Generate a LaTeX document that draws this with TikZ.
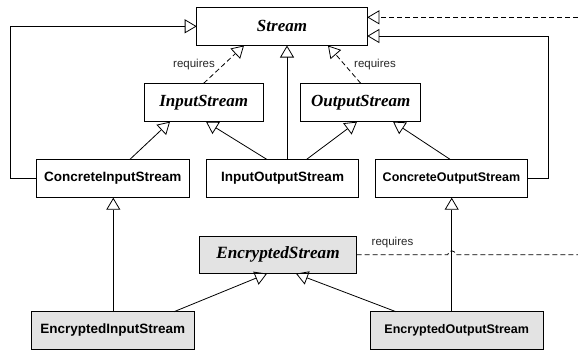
\documentclass[tikz,border=0pt]{standalone}
\usepackage{fontspec}
\setmainfont{Liberation Serif}
\setsansfont{Liberation Sans}
\usetikzlibrary{arrows.meta}
\definecolor{encgray}{HTML}{E3E3E3}
\begin{document}
\begin{tikzpicture}[x=1pt,y=-1pt,
  box/.style={draw=black,line width=0.8pt,inner sep=0pt,outer sep=0pt,minimum height=38.4pt},
  abs/.style={box,font=\fontsize{17}{20}\selectfont\bfseries\itshape},
  absenc/.style={box,fill=encgray,font=\fontsize{17.2}{20}\selectfont\bfseries\itshape},
  conc/.style={box,font=\sffamily\bfseries\fontsize{13.5}{16}\selectfont},
  concsm/.style={box,font=\sffamily\bfseries\fontsize{12.5}{15}\selectfont},
  enc/.style={fill=encgray},
  gen/.style={line width=0.8pt,-{Triangle[open,length=12pt,width=14pt]}},
  req/.style={gen,dash pattern=on 5pt off 3pt},
  dep/.style={line width=0.8pt,dash pattern=on 5pt off 3pt},
  lbl/.style={font=\sffamily\fontsize{11.5}{13}\selectfont,text=black!85}
]
\useasboundingbox (0,0) rectangle (578,354);

% nodes
\node[abs,minimum width=170.6pt] (stream) at (282,26.3) {Stream};
\node[abs,minimum width=119.3pt] (is) at (203.7,102.5) {InputStream};
\node[abs,minimum width=120pt] (os) at (360.7,102.5) {OutputStream};
\node[conc,minimum width=152.3pt] (cis) at (112.8,178.5) {ConcreteInputStream};
\node[conc,minimum width=151.6pt] (ios) at (282.5,178.5) {InputOutputStream};
\node[concsm,minimum width=151.6pt] (cos) at (451.5,178.5) {ConcreteOutputStream};
\node[absenc,minimum width=157pt,minimum height=37.7pt] (es) at (278,254.8) {EncryptedStream};
\node[conc,enc,minimum width=162.3pt,minimum height=37.6pt] (eis) at (112.8,330.5) {EncryptedInputStream};
\node[concsm,enc,minimum width=173.3pt,minimum height=37.6pt] (eos) at (456.7,330.5) {EncryptedOutputStream};

% labels
\node[lbl] (rq1) at (194,65) {requires};
\node[lbl] (rq2) at (375,65) {requires};
\node[lbl] (rq3) at (392.5,242.7) {requires};

% helper coordinates
\coordinate (lx) at (10.7,0);
\coordinate (rx) at (548.7,36);
\coordinate (rt) at (578,17.3);
\coordinate (rb) at (578,254.8);
\coordinate (hop) at (447.7,254.8);

% generalizations to Stream
\draw[gen] (cis.west) -- (cis.west -| lx) |- (stream.west);
\draw[gen] (cos.east) -| (rx) -- (rx -| stream.east);
\draw[gen] ([xshift=4.5pt]ios.north) -- ([xshift=5pt]stream.south);
\draw[req] (rt) -- (rt -| stream.east);

% requires
\draw[req] (is.north) -- ([xshift=-38pt]stream.south);
\draw[req] (os.north) -- ([xshift=46pt]stream.south);

% to InputStream / OutputStream
\draw[gen] ([xshift=17.2pt]cis.north) -- ([xshift=-33.7pt]is.south);
\draw[gen] ([xshift=-15.8pt]ios.north) -- ([xshift=2.3pt]is.south);
\draw[gen] ([xshift=24.2pt]ios.north) -- ([xshift=-3.7pt]os.south);
\draw[gen] ([xshift=-1.5pt]cos.north) -- ([xshift=32.3pt]os.south);

% encrypted
\draw[gen] ([xshift=0.5pt]eis.north) -- ([xshift=0.5pt]cis.south);
\draw[gen] ([xshift=-5pt]eos.north) -- ([xshift=0.2pt]cos.south);
\draw[gen] ([xshift=61.2pt]eis.north) -- ([xshift=-11pt]es.south);
\draw[gen] ([xshift=-60.7pt]eos.north) -- ([xshift=18pt]es.south);
\draw[dep] (es.east) -- (hop) arc[start angle=180,end angle=0,radius=4pt] -- (rb);
\end{tikzpicture}
\end{document}
